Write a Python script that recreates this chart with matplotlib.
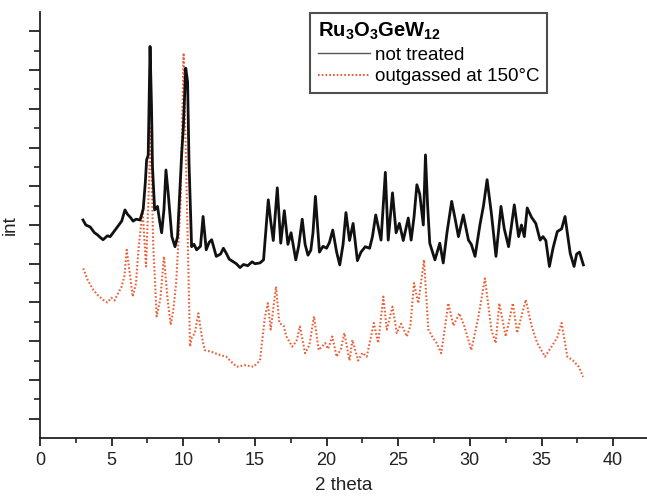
import matplotlib
matplotlib.use("Agg")
import matplotlib.pyplot as plt
from matplotlib.lines import Line2D
from matplotlib.ticker import MultipleLocator, FixedLocator

plt.rcParams['font.family'] = ['Liberation Sans', 'DejaVu Sans']
plt.rcParams['mathtext.fontset'] = 'custom'
plt.rcParams['mathtext.rm'] = 'Liberation Sans'
plt.rcParams['mathtext.bf'] = 'Liberation Sans:bold'
plt.rcParams['mathtext.it'] = 'Liberation Sans:italic'

# 2 theta / intensity (arbitrary units)
theta_nt = [3.0, 3.2, 3.5, 3.8, 4.0, 4.2, 4.4, 4.7, 4.9, 5.2, 5.4, 5.7, 5.93, 6.1, 6.3, 6.5,
            6.7, 6.98, 7.2, 7.35, 7.44, 7.55, 7.68, 7.78, 7.85, 8.0, 8.2, 8.35, 8.49, 8.65, 8.79,
            8.95, 9.2, 9.42, 9.6, 9.75, 9.89, 10.0, 10.17, 10.3, 10.4, 10.58, 10.75, 10.93,
            11.2, 11.38, 11.6, 11.8, 11.98, 12.3, 12.6, 12.8, 13.0, 13.2, 13.5, 13.7, 13.96,
            14.2, 14.5, 14.8, 15.0, 15.35, 15.6, 15.75, 15.93, 16.1, 16.28, 16.56, 16.8, 17.05,
            17.3, 17.52, 17.85, 18.05, 18.3, 18.5, 18.7, 18.9, 19.05, 19.22, 19.5, 19.75, 20.0,
            20.2, 20.43, 20.7, 20.92, 21.15, 21.35, 21.6, 21.85, 22.15, 22.4, 22.7, 23.0, 23.2,
            23.43, 23.8, 24.1, 24.3, 24.6, 24.85, 25.08, 25.35, 25.7, 25.9, 26.1, 26.3, 26.5,
            26.75, 26.9, 27.05, 27.2, 27.56, 27.9, 28.14, 28.4, 28.73, 29.0, 29.2, 29.54, 29.9,
            30.1, 30.36, 30.7, 30.95, 31.2, 31.5, 31.82, 32.17, 32.4, 32.7, 33.1, 33.4, 33.6,
            33.8, 34.0, 34.3, 34.6, 34.9, 35.1, 35.3, 35.55, 35.8, 36.1, 36.4, 36.64, 37.0,
            37.27, 37.45, 37.65, 37.92]
int_nt = [5.63, 5.5, 5.45, 5.3, 5.25, 5.18, 5.12, 5.22, 5.2, 5.35, 5.45, 5.6, 5.89, 5.78, 5.7, 5.6,
          5.65, 5.63, 5.9, 6.6, 7.18, 7.3, 10.11, 8.6, 7.0, 5.89, 5.98, 5.6, 5.3, 5.9, 6.92,
          6.3, 5.2, 4.94, 5.2, 6.3, 7.36, 8.0, 9.55, 9.2, 7.1, 4.94, 5.0, 4.86,
          4.95, 5.72, 4.86, 5.05, 5.12, 4.69, 4.75, 4.9, 4.77, 4.62, 4.55, 4.5, 4.4,
          4.48, 4.45, 4.55, 4.5, 4.52, 4.6, 5.3, 6.15, 5.6, 5.1, 6.46, 5.03, 5.87,
          5.0, 5.3, 4.6, 4.95, 5.65, 5.0, 4.72, 4.85, 5.3, 6.24, 4.8, 4.95, 4.9,
          5.05, 5.37, 4.8, 4.47, 5.0, 5.82, 5.1, 5.54, 4.58, 4.8, 4.94, 4.9, 5.2,
          5.76, 5.11, 6.86, 5.11, 6.33, 5.3, 5.54, 5.1, 5.68, 5.11, 5.7, 6.54, 6.3,
          5.5, 7.31, 6.0, 5.03, 4.6, 5.03, 4.52, 5.3, 6.11, 5.6, 5.2, 5.76, 5.11,
          5.0, 4.69, 5.5, 6.0, 6.67, 5.8, 4.69, 5.98, 5.4, 4.94, 6.02, 5.2, 5.5,
          5.2, 5.94, 5.7, 5.54, 5.11, 5.2, 5.1, 4.43, 4.9, 5.33, 5.4, 5.72, 4.77,
          4.43, 4.75, 4.8, 4.47]

theta_og = [3.02, 3.3, 3.72, 4.0, 4.4, 4.7, 4.97, 5.2, 5.4, 5.7, 5.9, 6.05, 6.25, 6.47, 6.7, 6.87,
            7.16, 7.4, 7.6, 7.72, 7.9, 8.14, 8.4, 8.65, 8.9, 9.12, 9.3, 9.5, 9.8, 9.9, 10.02,
            10.2, 10.47, 10.6, 10.8, 11.05, 11.3, 11.5, 12.0, 12.5, 13.0, 13.4, 13.73, 14.3,
            14.9, 15.35, 15.7, 15.9, 16.1, 16.47, 16.7, 17.0, 17.2, 17.6, 17.9, 18.14, 18.5,
            18.8, 19.12, 19.45, 19.9, 20.1, 20.4, 20.7, 21.0, 21.24, 21.6, 21.8, 22.2, 22.5,
            22.8, 23.3, 23.6, 23.96, 24.2, 24.6, 24.9, 25.2, 25.6, 25.85, 26.1, 26.4, 26.8,
            27.1, 27.4, 27.68, 28.0, 28.5, 28.85, 29.26, 29.6, 30.1, 30.6, 31.05, 31.5, 31.8,
            32.05, 32.5, 33.0, 33.3, 33.5, 33.9, 34.3, 34.7, 35.24, 35.7, 36.1, 36.4, 36.8,
            37.2, 37.6, 37.9]
int_og = [4.38, 4.1, 3.82, 3.7, 3.57, 3.5, 3.62, 3.55, 3.7, 3.91, 4.2, 4.86, 4.3, 3.65, 4.0, 4.86,
          5.89, 4.43, 6.5, 8.0, 5.0, 3.14, 3.6, 4.69, 3.6, 2.92, 3.3, 4.0, 6.0, 7.7, 9.94,
          7.0, 2.36, 2.6, 2.7, 3.22, 2.6, 2.27, 2.22, 2.15, 2.1, 1.95, 1.84, 1.88,
          1.84, 2.0, 3.14, 3.48, 2.8, 3.91, 2.97, 2.9, 2.62, 2.36, 2.5, 2.88, 2.19,
          2.4, 3.14, 2.27, 2.45, 2.3, 2.62, 2.1, 2.3, 2.71, 2.0, 2.53, 2.0, 2.2,
          2.1, 2.97, 2.45, 3.65, 2.8, 3.39, 2.71, 2.95, 2.62, 2.9, 4.0, 3.48, 4.6,
          2.8, 2.6, 2.45, 2.19, 3.48, 2.9, 3.22, 2.9, 2.27, 3.14, 4.12, 2.8, 2.45,
          3.48, 2.62, 3.48, 2.71, 3.0, 3.57, 2.9, 2.45, 2.1, 2.36, 2.6, 2.97, 2.1,
          2.0, 1.84, 1.58]

x_ticks = [0, 5, 10, 15, 20, 25, 30, 35, 40]
series_names = ["not treated", "outgassed at 150°C"]
legend_title = r"$\mathbf{Ru_3O_3GeW_{12}}$"

W, H = 647, 498
fig = plt.figure(figsize=(W / 100, H / 100), dpi=100)
ax = fig.add_axes([40 / W, 60 / H, 607 / W, 426 / H])

red = "#E8603A"
ax.plot(theta_og, int_og, color=red, lw=1.5, ls=(0, (0.8, 1.0)))
ax.plot(theta_nt, int_nt, color="#111111", lw=2.0)

ax.set_xlim(0, 42.36)
ax.set_ylim(0, 11)
for s in ("top", "right"):
    ax.spines[s].set_visible(False)
for s in ("left", "bottom"):
    ax.spines[s].set_linewidth(1.3)
    ax.spines[s].set_color("#222222")

ax.xaxis.set_major_locator(FixedLocator(x_ticks))
ax.xaxis.set_minor_locator(MultipleLocator(2.5))
ax.yaxis.set_major_locator(FixedLocator([0.5 + i for i in range(11)]))
ax.yaxis.set_minor_locator(FixedLocator([1 + i for i in range(10)]))
ax.set_yticklabels([])
ax.tick_params(axis="x", which="major", length=6, width=1.3, labelsize=13, pad=4, colors="#222222")
ax.tick_params(axis="x", which="minor", length=3.5, width=1.2, colors="#222222")
ax.tick_params(axis="y", which="major", length=8, width=1.3, colors="#222222")
ax.tick_params(axis="y", which="minor", length=4, width=1.2, colors="#222222")

ax.set_xlabel("2 theta", fontsize=13.5, labelpad=6, color="#222222")
ax.set_ylabel("int", fontsize=13.5, labelpad=4, color="#222222")

handles = [Line2D([], [], color="#555555", lw=1.0),
           Line2D([], [], color=red, lw=1.5, ls=(0, (0.8, 1.0)))]
leg = ax.legend(handles, series_names, title=legend_title, loc="upper left",
                bbox_to_anchor=(310 / W, 1 - 13 / H), bbox_transform=fig.transFigure,
                fontsize=13.5, title_fontsize=14.5, alignment="left", frameon=True, fancybox=False,
                handlelength=2.8, handletextpad=0.25, borderpad=0.4, labelspacing=0.25,
                borderaxespad=0)
leg.get_frame().set_edgecolor("#222222")
leg.get_frame().set_linewidth(1.5)

fig.savefig("out.png", dpi=100, facecolor="white")
